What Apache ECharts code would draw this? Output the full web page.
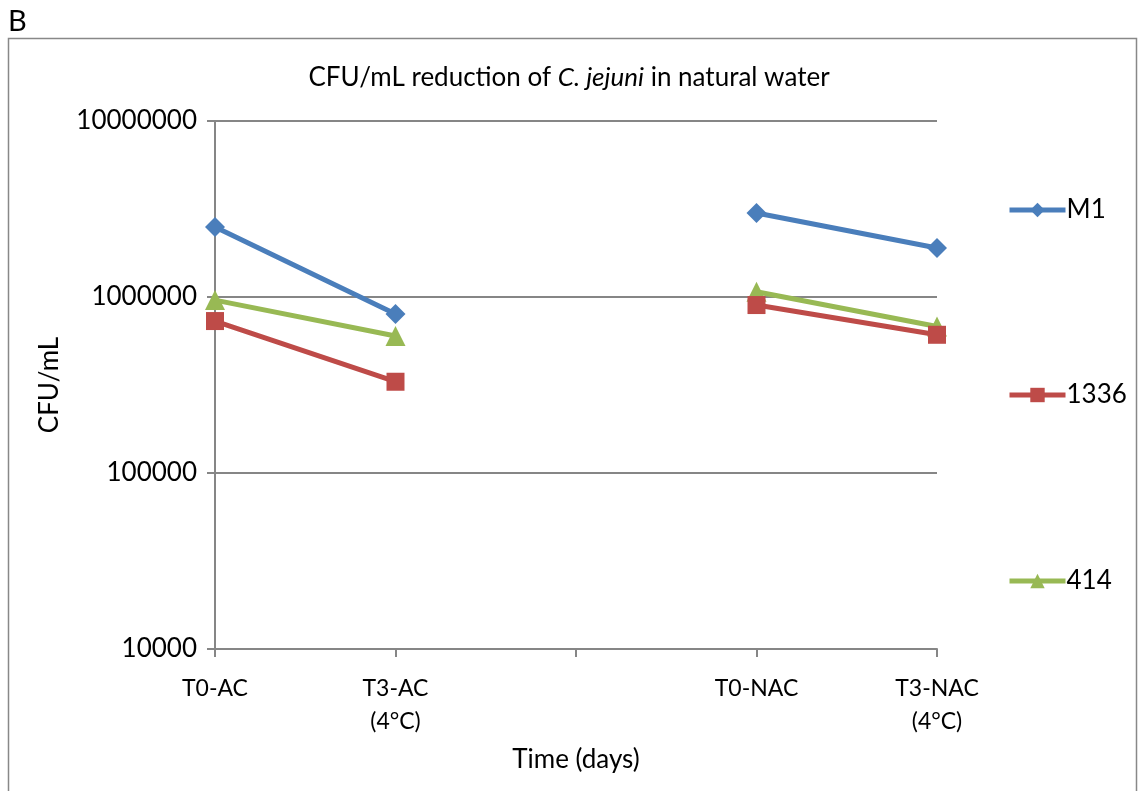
<!DOCTYPE html>
<html>
<head>
<meta charset="utf-8">
<script src="https://cdn.jsdelivr.net/npm/echarts@6/dist/echarts.min.js"></script>
<style>
  html, body { margin: 0; padding: 0; background: #fff; }
  #chart { width: 1138px; height: 791px; }
</style>
</head>
<body>
<div id="chart"></div>
<script>
// Sampling times (the blank slot separates the AC and NAC groups)
const categories = ['T0-AC', 'T3-AC\n(4°C)', '', 'T0-NAC', 'T3-NAC\n(4°C)'];

// CFU/mL per strain
const seriesNames = ['M1', '1336', '414'];
const m1 = [2500000, 800000, null, 3000000, 1900000];
const s1336 = [730000, 330000, null, 900000, 610000];
const s414 = [960000, 600000, null, 1070000, 680000];

const yTicks = [10000, 100000, 1000000, 10000000];

const colors = ['#4A7EBB', '#BE4B48', '#98B954'];
const symbols = ['diamond', 'rect', 'triangle'];
const symbolSizes = [20, 18, 20];
const FONT = 'Lato';

const chart = echarts.init(document.getElementById('chart'), null, { renderer: 'canvas' });

function lineSeries(name, data, i) {
  return {
    name: name,
    type: 'line',
    data: data,
    connectNulls: false,
    symbol: symbols[i],
    symbolSize: symbolSizes[i],
    lineStyle: { color: colors[i], width: 5 },
    itemStyle: { color: colors[i] },
    emphasis: { disabled: true },
    z: 3 + (2 - i)
  };
}

function legendAt(name, top) {
  return {
    data: [name],
    left: 1002,
    top: top,
    orient: 'vertical',
    itemWidth: 56,
    itemHeight: 18,
    itemGap: 0,
    lineStyle: { width: 5 },
    textStyle: { fontFamily: FONT, fontSize: 26, color: '#000', padding: [0, 0, 0, -4] },
    selectedMode: false
  };
}

chart.setOption({
  animation: false,
  color: colors,
  title: {
    text: 'CFU/mL reduction of {i|C. jejuni} in natural water',
    left: 'center',
    top: 60,
    textStyle: {
      fontFamily: FONT, fontSize: 26, fontWeight: 'normal', color: '#000',
      rich: { i: { fontFamily: FONT, fontSize: 26, fontStyle: 'italic', color: '#000' } }
    }
  },
  legend: [
    legendAt('M1', 192),
    legendAt('1336', 377),
    legendAt('414', 563)
  ],
  grid: { left: 215, right: 201, top: 121, bottom: 142, containLabel: false },
  xAxis: {
    type: 'category',
    data: categories,
    boundaryGap: false,
    name: 'Time (days)',
    nameLocation: 'middle',
    nameGap: 98,
    nameTextStyle: { fontFamily: FONT, fontSize: 26, color: '#000' },
    axisLine: { lineStyle: { color: '#868686', width: 2 } },
    axisTick: { show: true, interval: 0, length: 8, lineStyle: { color: '#868686', width: 2 } },
    axisLabel: {
      interval: 0, margin: 23, fontFamily: FONT, fontSize: 23, color: '#000', lineHeight: 33
    },
    splitLine: { show: false }
  },
  yAxis: {
    type: 'log',
    logBase: 10,
    min: yTicks[0],
    max: yTicks[yTicks.length - 1],
    name: 'CFU/mL',
    nameLocation: 'middle',
    nameGap: 152,
    nameTextStyle: { fontFamily: FONT, fontSize: 26, color: '#000' },
    axisLine: { show: true, lineStyle: { color: '#868686', width: 2 } },
    axisTick: { show: true, length: 8, lineStyle: { color: '#868686', width: 2 } },
    axisLabel: {
      margin: 18, fontFamily: FONT, fontSize: 26, color: '#000',
      formatter: v => String(Math.round(v))
    },
    splitLine: { show: true, lineStyle: { color: '#868686', width: 2 } }
  },
  graphic: [
    {
      type: 'rect',
      shape: { x: 8.5, y: 38.5, width: 1128, height: 770 },
      style: { fill: null, stroke: '#888', lineWidth: 1.5 },
      silent: true
    },
    {
      type: 'text',
      left: 8,
      top: 7,
      style: { text: 'B', fontFamily: FONT, fontSize: 29, fill: '#000' }
    }
  ],
  series: [
    lineSeries(seriesNames[0], m1, 0),
    lineSeries(seriesNames[1], s1336, 1),
    lineSeries(seriesNames[2], s414, 2)
  ]
});
</script>
</body>
</html>
